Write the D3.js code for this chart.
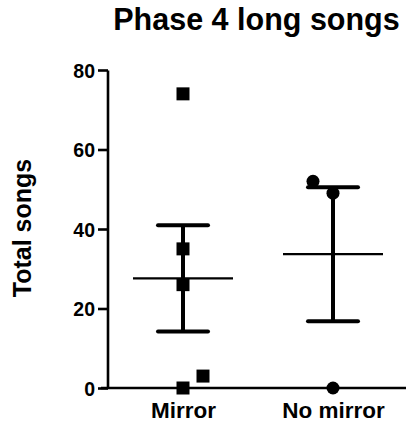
<!DOCTYPE html>
<html><head><meta charset="utf-8">
<script src="https://cdn.jsdelivr.net/npm/d3@7"></script>
<style>
html,body{margin:0;padding:0;background:#fff;}
svg text{font-family:"Liberation Sans",Arial,sans-serif;font-weight:bold;fill:#000;}
</style></head>
<body><svg id="c" width="406" height="425"></svg>
<script>
const title = "Phase 4 long songs";
const yTitle = "Total songs";
const categories = ["Mirror", "No mirror"];
const mirrorValues = [74, 35, 26, 3, 0];
const noMirrorValues = [52, 49, 0];
const yTicks = [0, 20, 40, 60, 80];
const symbols = ["square", "circle"];

const groups = [mirrorValues, noMirrorValues];

const svg = d3.select("#c");
const y = d3.scaleLinear().domain([0, 80]).range([388, 70]);
const x = d3.scalePoint().domain(categories).range([108, 408]).padding(0.5);

// axes
const yAxis = d3.axisLeft(y).tickValues(yTicks).tickSize(10).tickPadding(3).tickSizeOuter(0);
const gy = svg.append("g").attr("transform", "translate(108,0)").call(yAxis);
gy.select(".domain").attr("d", "M0,70.5V388").attr("stroke", "#000").attr("stroke-width", 2.6).attr("fill", "none");
gy.selectAll(".tick line").attr("stroke", "#000").attr("stroke-width", 2.6);
gy.selectAll(".tick text").style("font-size", "19.5px").attr("dy", "0.36em");

const xAxis = d3.axisBottom(x).tickSize(0).tickPadding(14);
const gx = svg.append("g").attr("transform", "translate(0,388)").call(xAxis);
gx.select(".domain").attr("d", "M101,0H406").attr("stroke", "#000").attr("stroke-width", 2.6);
gx.selectAll(".tick text").style("font-size", "22.5px").attr("dy", "0.72em");

// title
svg.append("text").attr("x", 256.5).attr("y", 30).attr("text-anchor", "middle")
  .style("font-size", "30.5px").text(title);
svg.append("text").attr("transform", "translate(31,228) rotate(-90)")
  .attr("text-anchor", "middle").style("font-size", "25px").text(yTitle);

// stats and marks
groups.forEach((vals, gi) => {
  const cx = x(categories[gi]);
  const n = vals.length;
  const mean = d3.mean(vals);
  const sem = d3.deviation(vals) / Math.sqrt(n);
  const g = svg.append("g");
  // error bar
  g.append("line").attr("x1", cx).attr("x2", cx).attr("y1", y(mean + sem)).attr("y2", y(mean - sem))
    .attr("stroke", "#000").attr("stroke-width", 4);
  [mean + sem, mean - sem].forEach(v => {
    g.append("line").attr("x1", cx - 25).attr("x2", cx + 25).attr("y1", y(v)).attr("y2", y(v))
      .attr("stroke", "#000").attr("stroke-width", 4).attr("stroke-linecap", "round");
  });
  g.append("line").attr("x1", cx - 50).attr("x2", cx + 50).attr("y1", y(mean)).attr("y2", y(mean))
    .attr("stroke", "#000").attr("stroke-width", 2.2);

  // jitter layout: avoid overlapping markers
  const placed = [];
  const dir = gi % 2 === 0 ? 1 : -1;
  const order = vals.map((v, i) => i).sort((a, b) => vals[a] - vals[b]);
  const sym = d3.symbol().type(symbols[gi] === "square" ? d3.symbolSquare : d3.symbolCircle)
    .size(symbols[gi] === "square" ? 169 : 133);
  order.forEach(i => {
    const py = y(vals[i]);
    let off = 0;
    for (const cand of [0, 20 * dir, -20 * dir, 40 * dir]) {
      if (!placed.some(p => Math.abs(p.off - cand) < 14 && Math.abs(p.py - py) < 14)) { off = cand; break; }
    }
    placed.push({ off, py });
    g.append("path").attr("d", sym).attr("transform", `translate(${cx + off},${py})`).attr("fill", "#000");
  });
});
</script></body></html>
